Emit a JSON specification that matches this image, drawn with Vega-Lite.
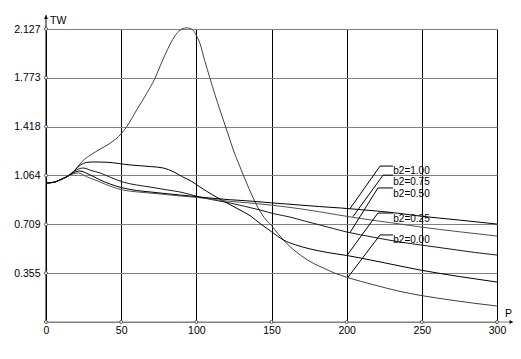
{
  "$schema": "https://vega.github.io/schema/vega-lite/v6.json",
  "width": 451,
  "height": 293,
  "autosize": "none",
  "padding": {"left": 46, "top": 29, "right": 24, "bottom": 37},
  "background": "white",
  "config": {"view": {"stroke": null}, "font": "Liberation Sans"},
  "datasets": {
    "curves": [
      {"b2":"0.00","p":0,"tw":1.009},{"b2":"0.00","p":5,"tw":1.014},{"b2":"0.00","p":10,"tw":1.035},{"b2":"0.00","p":15,"tw":1.062},
      {"b2":"0.00","p":19,"tw":1.10},{"b2":"0.00","p":24,"tw":1.165},{"b2":"0.00","p":30,"tw":1.215},{"b2":"0.00","p":36,"tw":1.255},
      {"b2":"0.00","p":42.6,"tw":1.297},{"b2":"0.00","p":50.3,"tw":1.37},{"b2":"0.00","p":53.7,"tw":1.418},{"b2":"0.00","p":60.3,"tw":1.539},
      {"b2":"0.00","p":67,"tw":1.66},{"b2":"0.00","p":72.5,"tw":1.769},{"b2":"0.00","p":76,"tw":1.86},{"b2":"0.00","p":82.5,"tw":2.015},
      {"b2":"0.00","p":86,"tw":2.08},{"b2":"0.00","p":89.1,"tw":2.118},{"b2":"0.00","p":92,"tw":2.133},{"b2":"0.00","p":94,"tw":2.135},
      {"b2":"0.00","p":96,"tw":2.13},{"b2":"0.00","p":98,"tw":2.117},{"b2":"0.00","p":100,"tw":2.08},{"b2":"0.00","p":102.4,"tw":2.023},
      {"b2":"0.00","p":105.5,"tw":1.90},{"b2":"0.00","p":109.1,"tw":1.769},{"b2":"0.00","p":112.4,"tw":1.65},{"b2":"0.00","p":115.7,"tw":1.539},
      {"b2":"0.00","p":120.2,"tw":1.394},{"b2":"0.00","p":124.6,"tw":1.249},{"b2":"0.00","p":129,"tw":1.127},{"b2":"0.00","p":133,"tw":1.02},
      {"b2":"0.00","p":137,"tw":0.92},{"b2":"0.00","p":141,"tw":0.83},{"b2":"0.00","p":145,"tw":0.76},{"b2":"0.00","p":150,"tw":0.70},
      {"b2":"0.00","p":154,"tw":0.645},{"b2":"0.00","p":158,"tw":0.595},{"b2":"0.00","p":163,"tw":0.54},{"b2":"0.00","p":170,"tw":0.48},
      {"b2":"0.00","p":177.8,"tw":0.426},{"b2":"0.00","p":185,"tw":0.39},{"b2":"0.00","p":192,"tw":0.355},{"b2":"0.00","p":200,"tw":0.325},
      {"b2":"0.00","p":218,"tw":0.27},{"b2":"0.00","p":235.5,"tw":0.222},{"b2":"0.00","p":268.7,"tw":0.160},{"b2":"0.00","p":300,"tw":0.116},

      {"b2":"0.25","p":0,"tw":1.009},{"b2":"0.25","p":5,"tw":1.014},{"b2":"0.25","p":10,"tw":1.035},{"b2":"0.25","p":15,"tw":1.062},
      {"b2":"0.25","p":19,"tw":1.10},{"b2":"0.25","p":23,"tw":1.14},{"b2":"0.25","p":27,"tw":1.158},{"b2":"0.25","p":32,"tw":1.162},
      {"b2":"0.25","p":40,"tw":1.16},{"b2":"0.25","p":56,"tw":1.14},{"b2":"0.25","p":70,"tw":1.128},{"b2":"0.25","p":78,"tw":1.118},
      {"b2":"0.25","p":85,"tw":1.09},{"b2":"0.25","p":91,"tw":1.053},{"b2":"0.25","p":97,"tw":1.02},{"b2":"0.25","p":102.4,"tw":0.98},
      {"b2":"0.25","p":111,"tw":0.922},{"b2":"0.25","p":120.4,"tw":0.864},{"b2":"0.25","p":129,"tw":0.813},{"b2":"0.25","p":136,"tw":0.77},
      {"b2":"0.25","p":143,"tw":0.71},{"b2":"0.25","p":150,"tw":0.655},{"b2":"0.25","p":158,"tw":0.595},{"b2":"0.25","p":166,"tw":0.56},
      {"b2":"0.25","p":175,"tw":0.532},{"b2":"0.25","p":187,"tw":0.505},{"b2":"0.25","p":200,"tw":0.483},{"b2":"0.25","p":209,"tw":0.465},
      {"b2":"0.25","p":225,"tw":0.43},{"b2":"0.25","p":250,"tw":0.375},{"b2":"0.25","p":275,"tw":0.33},{"b2":"0.25","p":300,"tw":0.290},

      {"b2":"0.50","p":0,"tw":1.009},{"b2":"0.50","p":5,"tw":1.014},{"b2":"0.50","p":10,"tw":1.035},{"b2":"0.50","p":15,"tw":1.062},
      {"b2":"0.50","p":19,"tw":1.095},{"b2":"0.50","p":24.6,"tw":1.118},{"b2":"0.50","p":30,"tw":1.10},{"b2":"0.50","p":36,"tw":1.082},
      {"b2":"0.50","p":43,"tw":1.05},{"b2":"0.50","p":51.2,"tw":1.016},{"b2":"0.50","p":60,"tw":0.995},{"b2":"0.50","p":69.2,"tw":0.98},
      {"b2":"0.50","p":80,"tw":0.96},{"b2":"0.50","p":89.1,"tw":0.944},{"b2":"0.50","p":102.4,"tw":0.907},{"b2":"0.50","p":112,"tw":0.885},
      {"b2":"0.50","p":122.4,"tw":0.864},{"b2":"0.50","p":132,"tw":0.84},{"b2":"0.50","p":142.4,"tw":0.813},{"b2":"0.50","p":152,"tw":0.785},
      {"b2":"0.50","p":162.3,"tw":0.762},{"b2":"0.50","p":172,"tw":0.733},{"b2":"0.50","p":182.3,"tw":0.704},{"b2":"0.50","p":200.2,"tw":0.653},
      {"b2":"0.50","p":218,"tw":0.615},{"b2":"0.50","p":235.5,"tw":0.581},{"b2":"0.50","p":252,"tw":0.555},{"b2":"0.50","p":268.7,"tw":0.530},
      {"b2":"0.50","p":285,"tw":0.505},{"b2":"0.50","p":300,"tw":0.486},

      {"b2":"0.75","p":0,"tw":1.009},{"b2":"0.75","p":5,"tw":1.014},{"b2":"0.75","p":10,"tw":1.035},{"b2":"0.75","p":15,"tw":1.062},
      {"b2":"0.75","p":18,"tw":1.075},{"b2":"0.75","p":21.3,"tw":1.082},{"b2":"0.75","p":27,"tw":1.055},{"b2":"0.75","p":36,"tw":1.016},
      {"b2":"0.75","p":43,"tw":0.985},{"b2":"0.75","p":51.2,"tw":0.958},{"b2":"0.75","p":60,"tw":0.945},{"b2":"0.75","p":69.2,"tw":0.936},
      {"b2":"0.75","p":80,"tw":0.925},{"b2":"0.75","p":89.1,"tw":0.915},{"b2":"0.75","p":100,"tw":0.905},{"b2":"0.75","p":109.1,"tw":0.893},
      {"b2":"0.75","p":122,"tw":0.876},{"b2":"0.75","p":135.7,"tw":0.864},{"b2":"0.75","p":150,"tw":0.848},{"b2":"0.75","p":169,"tw":0.822},
      {"b2":"0.75","p":182,"tw":0.80},{"b2":"0.75","p":195.6,"tw":0.775},{"b2":"0.75","p":210,"tw":0.75},{"b2":"0.75","p":230,"tw":0.72},
      {"b2":"0.75","p":248.8,"tw":0.69},{"b2":"0.75","p":275,"tw":0.655},{"b2":"0.75","p":300,"tw":0.624},

      {"b2":"1.00","p":0,"tw":1.009},{"b2":"1.00","p":5,"tw":1.014},{"b2":"1.00","p":10,"tw":1.035},{"b2":"1.00","p":15,"tw":1.062},
      {"b2":"1.00","p":18.5,"tw":1.085},{"b2":"1.00","p":22.6,"tw":1.096},{"b2":"1.00","p":28,"tw":1.075},{"b2":"1.00","p":36,"tw":1.031},
      {"b2":"1.00","p":43,"tw":1.0},{"b2":"1.00","p":51.2,"tw":0.973},{"b2":"1.00","p":60,"tw":0.955},{"b2":"1.00","p":69.2,"tw":0.944},
      {"b2":"1.00","p":80,"tw":0.932},{"b2":"1.00","p":89.1,"tw":0.922},{"b2":"1.00","p":100,"tw":0.91},{"b2":"1.00","p":109.1,"tw":0.90},
      {"b2":"1.00","p":122,"tw":0.888},{"b2":"1.00","p":135.7,"tw":0.878},{"b2":"1.00","p":150,"tw":0.865},{"b2":"1.00","p":169,"tw":0.849},
      {"b2":"1.00","p":182,"tw":0.838},{"b2":"1.00","p":195.6,"tw":0.828},{"b2":"1.00","p":210,"tw":0.815},{"b2":"1.00","p":230,"tw":0.795},
      {"b2":"1.00","p":248.8,"tw":0.769},{"b2":"1.00","p":275,"tw":0.74},{"b2":"1.00","p":300,"tw":0.711}
    ],
    "leaders": [
      {"b2":"1.00","i":0,"p":202.2,"tw":0.823},{"b2":"1.00","i":1,"p":222.2,"tw":1.132},{"b2":"1.00","i":2,"p":230.8,"tw":1.132},
      {"b2":"0.75","i":0,"p":204.2,"tw":0.765},{"b2":"0.75","i":1,"p":224.2,"tw":1.066},{"b2":"0.75","i":2,"p":230.8,"tw":1.066},
      {"b2":"0.50","i":0,"p":202.2,"tw":0.649},{"b2":"0.50","i":1,"p":220.8,"tw":0.973},{"b2":"0.50","i":2,"p":230.8,"tw":0.973},
      {"b2":"0.25","i":0,"p":200.2,"tw":0.483},{"b2":"0.25","i":1,"p":220.8,"tw":0.791},{"b2":"0.25","i":2,"p":230.8,"tw":0.791},
      {"b2":"0.00","i":0,"p":200.9,"tw":0.325},{"b2":"0.00","i":1,"p":222.2,"tw":0.632},{"b2":"0.00","i":2,"p":230.8,"tw":0.632}
    ],
    "labels": [
      {"text":"b2=1.00","p":231,"tw":1.078},
      {"text":"b2=0.75","p":231,"tw":0.997},
      {"text":"b2=0.50","p":231,"tw":0.910},
      {"text":"b2=0.25","p":231,"tw":0.728},
      {"text":"b2=0.00","p":231,"tw":0.576}
    ],
    "ticks": [
      {"p":0,"tw":0},{"p":0,"tw":0.355},{"p":0,"tw":0.709},{"p":0,"tw":1.064},{"p":0,"tw":1.418},{"p":0,"tw":1.773},{"p":0,"tw":2.127},
      {"p":50,"tw":0},{"p":100,"tw":0},{"p":150,"tw":0},{"p":200,"tw":0},{"p":250,"tw":0},{"p":300,"tw":0}
    ]
  },
  "layer": [
    {
      "data": {"name": "curves"},
      "mark": {"type": "line", "interpolate": "monotone", "strokeWidth": 1},
      "encoding": {
        "x": {"field": "p", "type": "quantitative",
          "scale": {"domain": [0, 300], "nice": false, "zero": false},
          "axis": {"values": [0, 50, 100, 150, 200, 250, 300], "grid": true, "gridColor": "#000000", "gridOpacity": 1, "gridWidth": 1,
            "domain": false, "ticks": false, "labelPadding": 3, "labelFontSize": 10.5, "labelColor": "#000000",
            "labelFont": "Liberation Sans", "labelFlush": false, "title": null}},
        "y": {"field": "tw", "type": "quantitative",
          "scale": {"domain": [0, 2.127], "nice": false, "zero": false},
          "axis": {"values": [0, 0.355, 0.709, 1.064, 1.418, 1.773, 2.127], "grid": true, "gridColor": "#808080", "gridOpacity": 1, "gridWidth": 1,
            "domain": false, "ticks": false, "labelPadding": 6, "labelFontSize": 10.5, "labelColor": "#000000",
            "labelFont": "Liberation Sans", "labelFlush": false, "title": null,
            "labelExpr": "datum.value == 0 ? '' : format(datum.value, '.3f')"}},
        "color": {"field": "b2", "type": "nominal",
          "scale": {"domain": ["0.00", "0.25", "0.50", "0.75", "1.00"], "range": ["#404040", "#000000", "#1a1a1a", "#505050", "#000000"]},
          "legend": null}
      }
    },
    {
      "data": {"name": "leaders"},
      "mark": {"type": "line", "color": "#000000", "strokeWidth": 1},
      "encoding": {
        "x": {"field": "p", "type": "quantitative"},
        "y": {"field": "tw", "type": "quantitative"},
        "detail": {"field": "b2", "type": "nominal"},
        "order": {"field": "i", "type": "quantitative"}
      }
    },
    {
      "data": {"name": "labels"},
      "mark": {"type": "text", "align": "left", "baseline": "alphabetic", "fontSize": 10, "color": "#000000", "font": "Liberation Sans"},
      "encoding": {
        "x": {"field": "p", "type": "quantitative"},
        "y": {"field": "tw", "type": "quantitative"},
        "text": {"field": "text"}
      }
    },
    {
      "data": {"values": [{"p": 0, "tw": 0, "tw2": 2.229}]},
      "mark": {"type": "rule", "color": "#000000", "strokeWidth": 1},
      "encoding": {
        "x": {"field": "p", "type": "quantitative"},
        "y": {"field": "tw", "type": "quantitative"},
        "y2": {"field": "tw2"}
      }
    },
    {
      "data": {"values": [{"p": 0, "p2": 310.6, "tw": 0}]},
      "mark": {"type": "rule", "color": "#808080", "strokeWidth": 1},
      "encoding": {
        "x": {"field": "p", "type": "quantitative"},
        "x2": {"field": "p2"},
        "y": {"field": "tw", "type": "quantitative"}
      }
    },
    {
      "data": {"values": [{"p": 0, "tw": 2.212}]},
      "mark": {"type": "point", "shape": "triangle-up", "filled": true, "size": 16, "color": "#000000", "opacity": 1},
      "encoding": {
        "x": {"field": "p", "type": "quantitative"},
        "y": {"field": "tw", "type": "quantitative"}
      }
    },
    {
      "data": {"values": [{"p": 309.5, "tw": 0}]},
      "mark": {"type": "point", "shape": "triangle-right", "filled": true, "size": 16, "color": "#000000", "opacity": 1},
      "encoding": {
        "x": {"field": "p", "type": "quantitative"},
        "y": {"field": "tw", "type": "quantitative"}
      }
    },
    {
      "data": {"name": "ticks"},
      "mark": {"type": "point", "shape": "circle", "filled": true, "fill": "#ffffff", "stroke": "#555555", "strokeWidth": 1, "size": 9, "opacity": 1},
      "encoding": {
        "x": {"field": "p", "type": "quantitative"},
        "y": {"field": "tw", "type": "quantitative"}
      }
    },
    {
      "data": {"values": [{"t": "TW", "p": 2.66, "tw": 2.163}, {"t": "P", "p": 305.3, "tw": 0.036}]},
      "mark": {"type": "text", "align": "left", "baseline": "alphabetic", "fontSize": 10.5, "color": "#000000", "font": "Liberation Sans"},
      "encoding": {
        "x": {"field": "p", "type": "quantitative"},
        "y": {"field": "tw", "type": "quantitative"},
        "text": {"field": "t"}
      }
    }
  ]
}
